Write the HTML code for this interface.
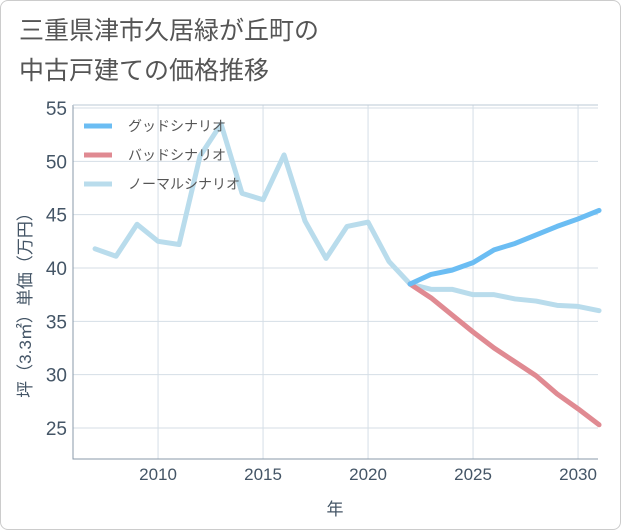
<!DOCTYPE html>
<html><head><meta charset="utf-8"><style>
body{margin:0;background:#fff;font-family:"Liberation Sans","Noto Sans CJK JP",sans-serif}
#wrap{position:relative;width:621px;height:530px;box-sizing:border-box;border:1px solid #ccc;border-radius:8px;background:#fff;overflow:hidden}
#title{position:absolute;left:18px;top:10px;font-size:25px;line-height:40px;color:#555;font-weight:normal;margin:0;z-index:2}
svg{position:absolute;left:0;top:0}
</style></head><body>
<div id="wrap">
<h1 id="title">三重県津市久居緑が丘町の<br>中古戸建ての価格推移</h1>
<svg id="chart" width="621" height="530"></svg>
</div>
<script>
const years=[2007,2008,2009,2010,2011,2012,2013,2014,2015,2016,2017,2018,2019,2020,2021,2022,2023,2024,2025,2026,2027,2028,2029,2030,2031];
const normalValues=[41.8,41.1,44.1,42.5,42.2,50.5,53.5,47,46.4,50.6,44.4,40.9,43.9,44.3,40.6,38.5,38,38,37.5,37.5,37.1,36.9,36.5,36.4,36];
const forecastYears=[2022,2023,2024,2025,2026,2027,2028,2029,2030,2031];
const goodValues=[38.5,39.4,39.8,40.5,41.7,42.3,43.1,43.9,44.6,45.4];
const badValues=[38.5,37.2,35.6,34.0,32.5,31.2,29.9,28.2,26.8,25.3];
const yTicks=[25,30,35,40,45,50,55];
const xTicks=[2010,2015,2020,2025,2030];
const legendLabels=["グッドシナリオ","バッドシナリオ","ノーマルシナリオ"];
const colors=["#6bbdf3","#e08a92","#b9dcec"];

const L=72,R=597,T=104,B=458;
const x=v=>L+(v-2005.95)*(R-L)/25;
const y=v=>427-(v-25)*(427-107)/30;
const ns="http://www.w3.org/2000/svg";
const svg=document.getElementById('chart');
function mk(tag,attrs,parent){const e=document.createElementNS(ns,tag);for(const k in attrs)e.setAttribute(k,attrs[k]);(parent||svg).appendChild(e);return e;}

for(const t of yTicks){
  const g=mk('line',{x1:L,x2:R,y1:y(t),y2:y(t),stroke:'#d5dee6','stroke-width':1});
  
  
  const tx=mk('text',{x:L-6,y:y(t)+7,'text-anchor':'end','font-size':19,fill:'#445566'});
  tx.textContent=t;
  
  
}
for(const t of xTicks){
  const g=mk('line',{x1:x(t),x2:x(t),y1:T,y2:B,stroke:'#d5dee6','stroke-width':1});
  
  
  const tx=mk('text',{x:x(t),y:B+21,'text-anchor':'middle','font-size':17,fill:'#445566'});
  tx.textContent=t;
  
  
}
const ax=mk('path',{d:`M${L},${T}V${B}H${R}`,fill:'none',stroke:'#8899aa','stroke-width':1});


const plotTop=mk('line',{x1:L,x2:R,y1:T,y2:T,stroke:'#bbc8d4','stroke-width':1});



function drawLine(xs,vs,c,name){
  const p=mk('polyline',{points:xs.map((v,i)=>x(v)+','+y(vs[i])).join(' '),fill:'none',stroke:c,'stroke-width':5,'stroke-linejoin':'round','stroke-linecap':'round'});
  
  
}
drawLine(years,normalValues,colors[2],'normal-scenario-line');
drawLine(forecastYears,badValues,colors[1],'bad-scenario-line');
drawLine(forecastYears,goodValues,colors[0],'good-scenario-line');

legendLabels.forEach((lab,i)=>{
  const yy=125+i*29;
  const s=mk('line',{x1:83,x2:111,y1:yy,y2:yy,stroke:colors[i],'stroke-width':5});
  
  
  const t=mk('text',{x:127,y:yy+5,'font-size':14,fill:'#555'});
  t.textContent=lab;
  
  
});
const xt=mk('text',{x:334,y:514,'text-anchor':'middle','font-size':17,fill:'#445566'});
xt.textContent='年';


const yt=mk('text',{x:0,y:0,'text-anchor':'middle','font-size':17,fill:'#445566',transform:'translate(30,300) rotate(-90)'});
yt.textContent='坪（3.3㎡）単価（万円）';


</script>
</body></html>
